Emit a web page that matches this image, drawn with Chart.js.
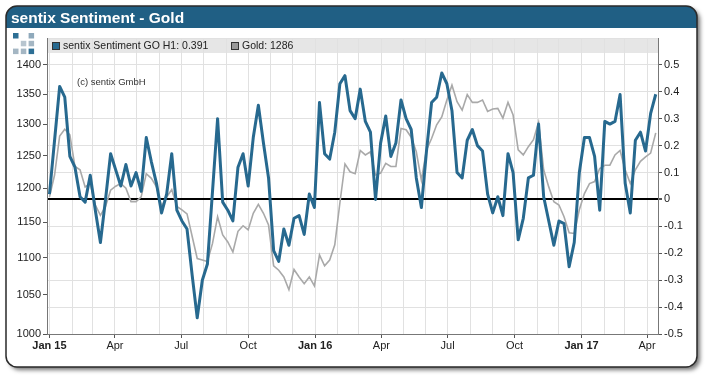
<!DOCTYPE html>
<html><head><meta charset="utf-8">
<script src="https://cdn.jsdelivr.net/npm/chart.js@4/dist/chart.umd.min.js"></script>
<style>html,body{margin:0;padding:0;background:#fff;}canvas{display:block;}</style>
</head><body>
<canvas id="c" width="710" height="380"></canvas>
<script>
// ---- data ----
const title = 'sentix Sentiment - Gold';
const copyright = '(c) sentix GmbH';
const seriesNames = ['sentix Sentiment GO H1', 'Gold'];
const firstWeek = [2015, 0, 1];      // weekly observations, Thursdays
const sentiment = [
 0.02,0.22,0.42,0.38,0.16,0.12,0.01,-0.01,0.09,-0.04,
 -0.16,0.00,0.17,0.11,0.05,0.13,0.05,0.10,0.03,0.23,
 0.14,0.06,-0.05,0.02,0.17,-0.04,-0.08,-0.11,-0.28,-0.44,
 -0.30,-0.24,0.03,0.30,-0.01,-0.04,-0.08,0.12,0.17,0.05,
 0.23,0.35,0.21,0.08,-0.19,-0.23,-0.11,-0.17,-0.07,-0.06,
 -0.13,0.02,-0.03,0.36,0.17,0.15,0.25,0.43,0.46,0.33,
 0.30,0.41,0.29,0.25,0.00,0.21,0.31,0.16,0.21,0.37,
 0.30,0.26,0.08,-0.03,0.18,0.36,0.38,0.47,0.43,0.33,
 0.10,0.08,0.22,0.26,0.20,0.18,0.02,-0.05,0.01,-0.06,
 0.17,0.10,-0.15,-0.07,0.08,0.09,0.28,0.01,-0.08,-0.17,
 -0.08,-0.09,-0.25,-0.16,0.10,0.23,0.23,0.16,-0.04,0.29,
 0.28,0.29,0.39,0.06,-0.05,0.22,0.25,0.18,0.32,0.391
];
const gold = [
 1187,1220,1281,1292,1283,1233,1228,1202,1207,1175,
 1160,1173,1197,1203,1207,1200,1180,1180,1187,1222,
 1215,1202,1173,1187,1198,1173,1168,1162,1130,1099,
 1097,1095,1120,1158,1132,1122,1108,1137,1145,1139,
 1163,1176,1163,1146,1089,1083,1074,1057,1084,1074,
 1065,1074,1062,1104,1089,1097,1118,1178,1237,1225,
 1222,1258,1251,1256,1220,1223,1238,1233,1233,1293,
 1291,1279,1256,1212,1259,1277,1299,1312,1340,1365,
 1337,1323,1349,1336,1336,1340,1321,1325,1326,1310,
 1336,1315,1259,1251,1264,1275,1303,1228,1202,1180,
 1175,1158,1135,1134,1168,1192,1207,1210,1230,1235,
 1235,1251,1258,1228,1207,1228,1241,1248,1254,1286
];
const goldTicks = [1000,1050,1100,1150,1200,1250,1300,1350,1400];
const sentimentTicks = [-0.5,-0.4,-0.3,-0.2,-0.1,0,0.1,0.2,0.3,0.4,0.5];
const monthNames = ['Jan','Feb','Mar','Apr','May','Jun','Jul','Aug','Sep','Oct','Nov','Dec'];
const axisMonths = [[2015,0],[2017,3]]; // monthly grid, labelled each quarter

// ---- helpers ----
const DAY = 86400000;
const t0 = Date.UTC(firstWeek[0], firstWeek[1], firstWeek[2]);
const weekX = sentiment.map((_, i) => i * 7);           // days since first observation
const monthTicks = [];
for (let y = axisMonths[0][0], m = axisMonths[0][1]; y < axisMonths[1][0] || (y === axisMonths[1][0] && m <= axisMonths[1][1]); ) {
  monthTicks.push({ value: (Date.UTC(y, m, 1) - t0) / DAY, y, m });
  m++; if (m > 11) { m = 0; y++; }
}
const tickInfo = v => monthTicks.find(t => Math.abs(t.value - v) < 0.01);
const FONT = 'Arial, "Liberation Sans", sans-serif';
const BLUE = '#27698f';
const GREY = '#a9a9a9';

const deco = {
  id: 'deco',
  beforeDraw(chart) {
    const c = chart.ctx, a = chart.chartArea;
    c.save();
    c.fillStyle = '#fff'; c.fillRect(0, 0, chart.width, chart.height);
    const rr = () => { c.beginPath(); c.roundRect(6, 6, 691, 361, 11); };
    c.shadowColor = 'rgba(0,0,0,0.55)'; c.shadowBlur = 4; c.shadowOffsetX = 3; c.shadowOffsetY = 3;
    rr(); c.fillStyle = '#fff'; c.fill();
    c.shadowColor = 'transparent';
    c.save(); rr(); c.clip();
    c.fillStyle = '#205f84'; c.fillRect(6, 6, 691, 22);
    c.restore();
    rr(); c.lineWidth = 1.5; c.strokeStyle = '#2a2a2a'; c.stroke();
    c.fillStyle = '#fff'; c.font = 'bold 15.5px ' + FONT; c.textBaseline = 'alphabetic';
    c.fillText(title, 11, 23);
    const sq = [[0,0,'#2d6f95'],[2,0,'#8fa9bb'],[1,1,'#b7c5cf'],[2,1,'#a4b6c3'],[0,2,'#a4b6c3'],[1,2,'#a4b6c3'],[2,2,'#2d6f95']];
    sq.forEach(([i, j, col]) => { c.fillStyle = col; c.fillRect(13 + i * 7.8, 33 + j * 7.8, 5.5, 5.5); });
    c.fillStyle = '#e6e6e6'; c.fillRect(a.left, a.top, a.right - a.left, 15);
    c.restore();
  },
  afterDatasetsDraw(chart) {
    const c = chart.ctx, a = chart.chartArea;
    c.save();
    c.font = '9.5px ' + FONT; c.fillStyle = '#333'; c.textBaseline = 'middle';
    c.fillText(copyright, 77, 82);
    c.font = '10.5px ' + FONT;
    const items = [[seriesNames[0], sentiment[sentiment.length - 1], BLUE, a.left + 5],
                   [seriesNames[1], gold[gold.length - 1], '#999', a.left + 184]];
    items.forEach(([n, v, col, x]) => {
      c.fillStyle = col; c.fillRect(x + 0.5, a.top + 4.5, 7, 7);
      c.strokeStyle = '#333'; c.lineWidth = 1; c.strokeRect(x + 0.5, a.top + 4.5, 7, 7);
      c.fillStyle = '#222'; c.fillText(n + ': ' + v, x + 11, a.top + 8.5);
    });
    c.restore();
  }
};

new Chart(document.getElementById('c'), {
  type: 'line',
  data: {
    datasets: [
      { label: seriesNames[1], data: gold.map((v, i) => ({ x: weekX[i], y: v })), yAxisID: 'yL',
        borderColor: GREY, borderWidth: 1.6, pointRadius: 0, tension: 0, order: 2 },
      { label: seriesNames[0], data: sentiment.map((v, i) => ({ x: weekX[i], y: v })), yAxisID: 'yR',
        borderColor: BLUE, borderWidth: 3, pointRadius: 0, tension: 0, order: 1, borderJoinStyle: 'round' }
    ]
  },
  options: {
    responsive: false, animation: false, devicePixelRatio: 1,
    layout: { padding: { top: 38, left: 0, right: 0, bottom: 0 } },
    plugins: { legend: { display: false }, tooltip: { enabled: false } },
    scales: {
      x: {
        type: 'linear', min: -3.4, max: 836.1,
        afterBuildTicks: s => { s.ticks = monthTicks.map(t => ({ value: t.value })); },
        afterFit: s => { s.height = 46; },
        ticks: {
          autoSkip: false, maxRotation: 0, padding: 1, color: '#222',
          callback: v => { const t = tickInfo(v); if (!t || t.m % 3) return ''; return t.m === 0 ? 'Jan ' + String(t.y).slice(2) : monthNames[t.m]; },
          font: ctx => { const t = ctx.tick && tickInfo(ctx.tick.value); return { family: FONT, size: 11, weight: (t && t.m === 0) ? 'bold' : 'normal' }; }
        },
        grid: {
          color: '#e1e1e1', lineWidth: 1, tickLength: 4,
          tickColor: ctx => { const t = ctx.tick && tickInfo(ctx.tick.value); return (t && t.m % 3 === 0) ? '#555' : 'rgba(0,0,0,0)'; }
        },
        border: { color: '#777', width: 1 }
      },
      yL: {
        type: 'logarithmic', position: 'left', min: 1000, max: 1448,
        afterBuildTicks: s => { s.ticks = goldTicks.map(v => ({ value: v })); },
        afterFit: s => { s.width = 47; },
        ticks: { callback: v => String(v), color: '#222', font: { family: FONT, size: 11 }, padding: 2 },
        grid: { drawOnChartArea: false, tickLength: 4, color: '#555' },
        border: { color: '#777', width: 1 }
      },
      yR: {
        type: 'linear', position: 'right', min: -0.5, max: 0.6,
        afterBuildTicks: s => { s.ticks = sentimentTicks.concat([0.6]).map(v => ({ value: v })); },
        afterFit: s => { s.width = 52; },
        ticks: { callback: v => (Math.abs(v - 0.6) < 1e-9 ? '' : String(Math.round(v * 10) / 10)), color: '#222', font: { family: FONT, size: 11 }, padding: 2 },
        grid: {
          tickLength: 4,
          color: ctx => (ctx.tick && Math.abs(ctx.tick.value) < 1e-9) ? '#000' : '#e1e1e1',
          lineWidth: ctx => (ctx.tick && Math.abs(ctx.tick.value) < 1e-9) ? 2 : 1,
          tickColor: ctx => (ctx.tick && Math.abs(ctx.tick.value - 0.6) < 1e-9) ? 'rgba(0,0,0,0)' : '#555'
        },
        border: { color: '#777', width: 1 }
      }
    }
  },
  plugins: [deco]
});
</script>
</body></html>
